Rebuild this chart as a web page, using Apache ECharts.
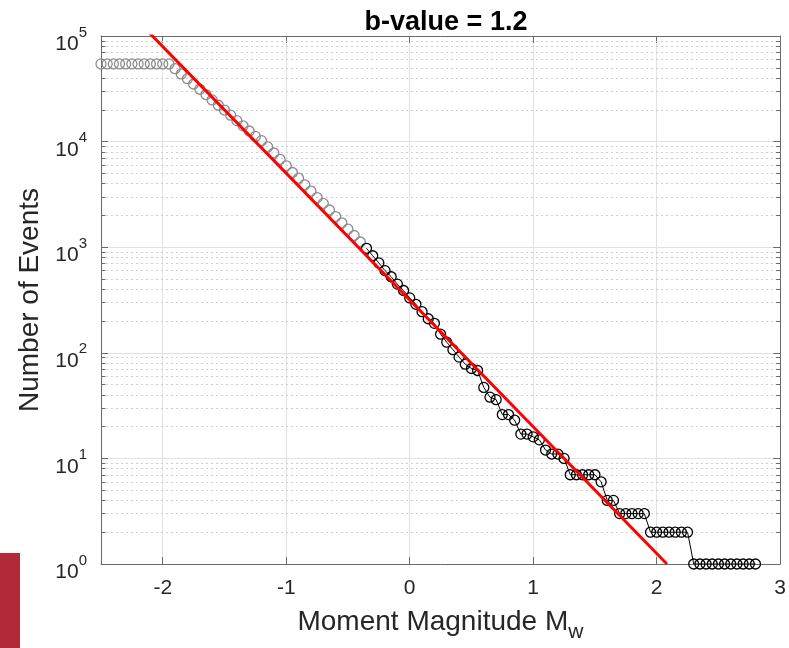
<!DOCTYPE html>
<html>
<head>
<meta charset="utf-8">
<script src="https://cdn.jsdelivr.net/npm/echarts@6/dist/echarts.min.js"></script>
<style>
  html, body { margin: 0; padding: 0; background: #ffffff; }
  #chart { width: 789px; height: 648px; }
</style>
</head>
<body>
<div id="chart"></div>
<script>
// Cumulative frequency-magnitude distribution (Gutenberg-Richter)
// Events below the completeness magnitude (plotted grey)
const magGray = [
  -2.50, -2.45, -2.40, -2.35, -2.30, -2.25, -2.20, -2.15, -2.10, -2.05, -2.00, -1.95,
  -1.90, -1.85, -1.80, -1.75, -1.70, -1.65, -1.60, -1.55, -1.50, -1.45, -1.40, -1.35,
  -1.30, -1.25, -1.20, -1.15, -1.10, -1.05, -1.00, -0.95, -0.90, -0.85, -0.80, -0.75,
  -0.70, -0.65, -0.60, -0.55, -0.50, -0.45, -0.40
];
const countGray = [
  54400, 54400, 54400, 54400, 54400, 54400, 54400, 54400, 54400, 54400, 54400, 54400,
  49000, 43700, 39400, 35100, 31300, 27900, 24800, 22100, 19900, 17800, 15800, 14100,
  12600, 11200, 10200, 8900, 7800, 6800, 5900, 5100, 4500, 3900, 3400, 2950,
  2600, 2250, 1950, 1700, 1480, 1290, 1120
];

// Events above the completeness magnitude (plotted black)
const magBlack = [
  -0.35, -0.30, -0.25, -0.20, -0.15, -0.10, -0.05, 0.00, 0.05, 0.10, 0.15, 0.20,
  0.25, 0.30, 0.35, 0.40, 0.45, 0.50, 0.55, 0.60, 0.65, 0.70, 0.75, 0.80,
  0.85, 0.90, 0.95, 1.00, 1.05, 1.10, 1.15, 1.20, 1.25, 1.30, 1.35, 1.40,
  1.45, 1.50, 1.55, 1.60, 1.65, 1.70, 1.75, 1.80, 1.85, 1.90, 1.95, 2.00,
  2.05, 2.10, 2.15, 2.20, 2.25, 2.30, 2.35, 2.40, 2.45, 2.50, 2.55, 2.60,
  2.65, 2.70, 2.75, 2.80
];
const countBlack = [
  975, 830, 710, 600, 525, 447, 389, 331, 288, 245, 210, 190,
  150, 126, 107, 91, 78, 71, 68, 47, 38, 36, 26, 26,
  23, 17, 17, 16, 15, 12, 11, 11, 10, 7, 7, 7,
  7, 7, 6, 4, 4, 3, 3, 3, 3, 3, 2, 2,
  2, 2, 2, 2, 2, 1, 1, 1, 1, 1, 1, 1,
  1, 1, 1, 1
];

// Gutenberg-Richter fit: log10 N = a - b * M
const bValue = 1.2;
const aValue = 2.5;
const fitMagRange = [-2.2, aValue / bValue];

// Axis ticks
const xTickValues = [-2, -1, 0, 1, 2, 3];
const yMin = 1;
const yMax = 100000;
const minorMantissas = [2, 3, 4, 5, 6, 7, 8, 9];
const minorDecades = [1, 10, 100, 1000, 10000];

const FONT = 'Liberation Sans, Arial, Helvetica, sans-serif';
const TEXT = '#262626';
const AXIS = '#6a6a6a';

const pairs = (xs, ys) => xs.map((x, i) => [x, ys[i]]);
const fitData = fitMagRange.map(m => [m, Math.pow(10, aValue - bValue * m)]);

const minorValues = [];
minorDecades.forEach(d => minorMantissas.forEach(k => minorValues.push(k * d)));

const minorGrid = minorValues.map(v => ({ yAxis: v }));
const minorTicks = [];
minorValues.forEach(v => {
  minorTicks.push([{ coord: [-2.5, v] }, { coord: [-2.465, v] }]);
  minorTicks.push([{ coord: [2.965, v] }, { coord: [3, v] }]);
});

const chart = echarts.init(document.getElementById('chart'), null, { renderer: 'canvas' });

chart.setOption({
  animation: false,
  backgroundColor: '#ffffff',
  title: {
    text: 'b-value = ' + bValue.toFixed(1),
    left: 441,
    top: 4,
    textAlign: 'center',
    textStyle: { fontFamily: FONT, fontSize: 27, fontWeight: 'bold', color: '#000000' }
  },
  grid: { left: 101, right: 2, top: 36, bottom: 81, containLabel: false },
  xAxis: [
    {
      type: 'value', min: -2.5, max: 3,
      name: '{m|Moment Magnitude M}{s|w}{h| }',
      nameLocation: 'middle', nameGap: 44,
      nameTextStyle: {
        fontFamily: FONT, color: TEXT,
        rich: {
          m: { fontFamily: FONT, fontSize: 28, lineHeight: 28, color: TEXT, verticalAlign: 'top' },
          s: { fontFamily: FONT, fontSize: 21, lineHeight: 21, color: TEXT, verticalAlign: 'bottom' },
          h: { fontFamily: FONT, fontSize: 1, lineHeight: 35, color: TEXT, verticalAlign: 'bottom' }
        }
      },
      axisLine: { show: true, onZero: false, lineStyle: { color: AXIS, width: 1 } },
      axisTick: { show: true, inside: true, length: 7, customValues: xTickValues, lineStyle: { color: AXIS } },
      axisLabel: { show: true, customValues: xTickValues, margin: 14, fontFamily: FONT, fontSize: 21, color: TEXT },
      splitLine: { show: true, lineStyle: { color: '#e2e2e2', width: 1 } }
    },
    {
      type: 'value', min: -2.5, max: 3, position: 'top',
      axisLine: { show: true, onZero: false, lineStyle: { color: AXIS, width: 1 } },
      axisTick: { show: true, inside: true, length: 7, customValues: xTickValues, lineStyle: { color: AXIS } },
      axisLabel: { show: false },
      splitLine: { show: false }
    }
  ],
  yAxis: [
    {
      type: 'log', logBase: 10, min: yMin, max: yMax,
      name: 'Number of Events',
      nameLocation: 'middle', nameGap: 53,
      nameTextStyle: { fontFamily: FONT, fontSize: 28, color: TEXT },
      axisLine: { show: true, onZero: false, lineStyle: { color: AXIS, width: 1 } },
      axisTick: { show: true, inside: true, length: 7, lineStyle: { color: AXIS } },
      axisLabel: {
        show: true, margin: 14, padding: [8, 0, 0, 0],
        formatter: v => '{b|10}{e|' + Math.round(Math.log10(v)) + '}',
        rich: {
          b: { fontFamily: FONT, fontSize: 21, lineHeight: 30, color: TEXT, verticalAlign: 'bottom' },
          e: { fontFamily: FONT, fontSize: 15, lineHeight: 15, color: TEXT, verticalAlign: 'top' }
        }
      },
      splitLine: { show: true, lineStyle: { color: '#e2e2e2', width: 1 } }
    },
    {
      type: 'log', logBase: 10, min: yMin, max: yMax, position: 'right',
      axisLine: { show: true, onZero: false, lineStyle: { color: AXIS, width: 1 } },
      axisTick: { show: true, inside: true, length: 7, lineStyle: { color: AXIS } },
      axisLabel: { show: false },
      splitLine: { show: false }
    }
  ],
  graphic: [
    { type: 'rect', left: 0, top: 553, shape: { width: 20, height: 95 }, style: { fill: '#b2293a' }, silent: true }
  ],
  series: [
    {
      name: 'below completeness',
      type: 'line',
      xAxisIndex: 0, yAxisIndex: 0,
      data: pairs(magGray, countGray),
      symbol: 'circle', symbolSize: 10,
      showAllSymbol: true,
      lineStyle: { width: 0 },
      itemStyle: { color: 'rgba(0,0,0,0)', borderColor: '#8c8c8c', borderWidth: 1.3 },
      z: 3,
      markLine: {
        silent: true, symbol: ['none', 'none'], label: { show: false },
        animation: false,
        data: minorGrid.map(d => Object.assign({ lineStyle: { color: '#cfcfcf', type: [2, 3], width: 1 } }, d))
          .concat(minorTicks.map(p => [Object.assign({ lineStyle: { color: AXIS, type: 'solid', width: 1 } }, p[0]), p[1]])),
        z: 1
      }
    },
    {
      name: 'above completeness',
      type: 'line',
      xAxisIndex: 0, yAxisIndex: 0,
      data: pairs(magBlack, countBlack),
      symbol: 'circle', symbolSize: 10,
      showAllSymbol: true,
      lineStyle: { color: '#000000', width: 1 },
      itemStyle: { color: 'rgba(0,0,0,0)', borderColor: '#000000', borderWidth: 1.3 },
      z: 4
    },
    {
      name: 'fit',
      type: 'line',
      xAxisIndex: 0, yAxisIndex: 0,
      data: fitData,
      symbol: 'none',
      clip: true,
      lineStyle: { color: '#ff0000', width: 3 },
      z: 5
    }
  ]
});
</script>
</body>
</html>
